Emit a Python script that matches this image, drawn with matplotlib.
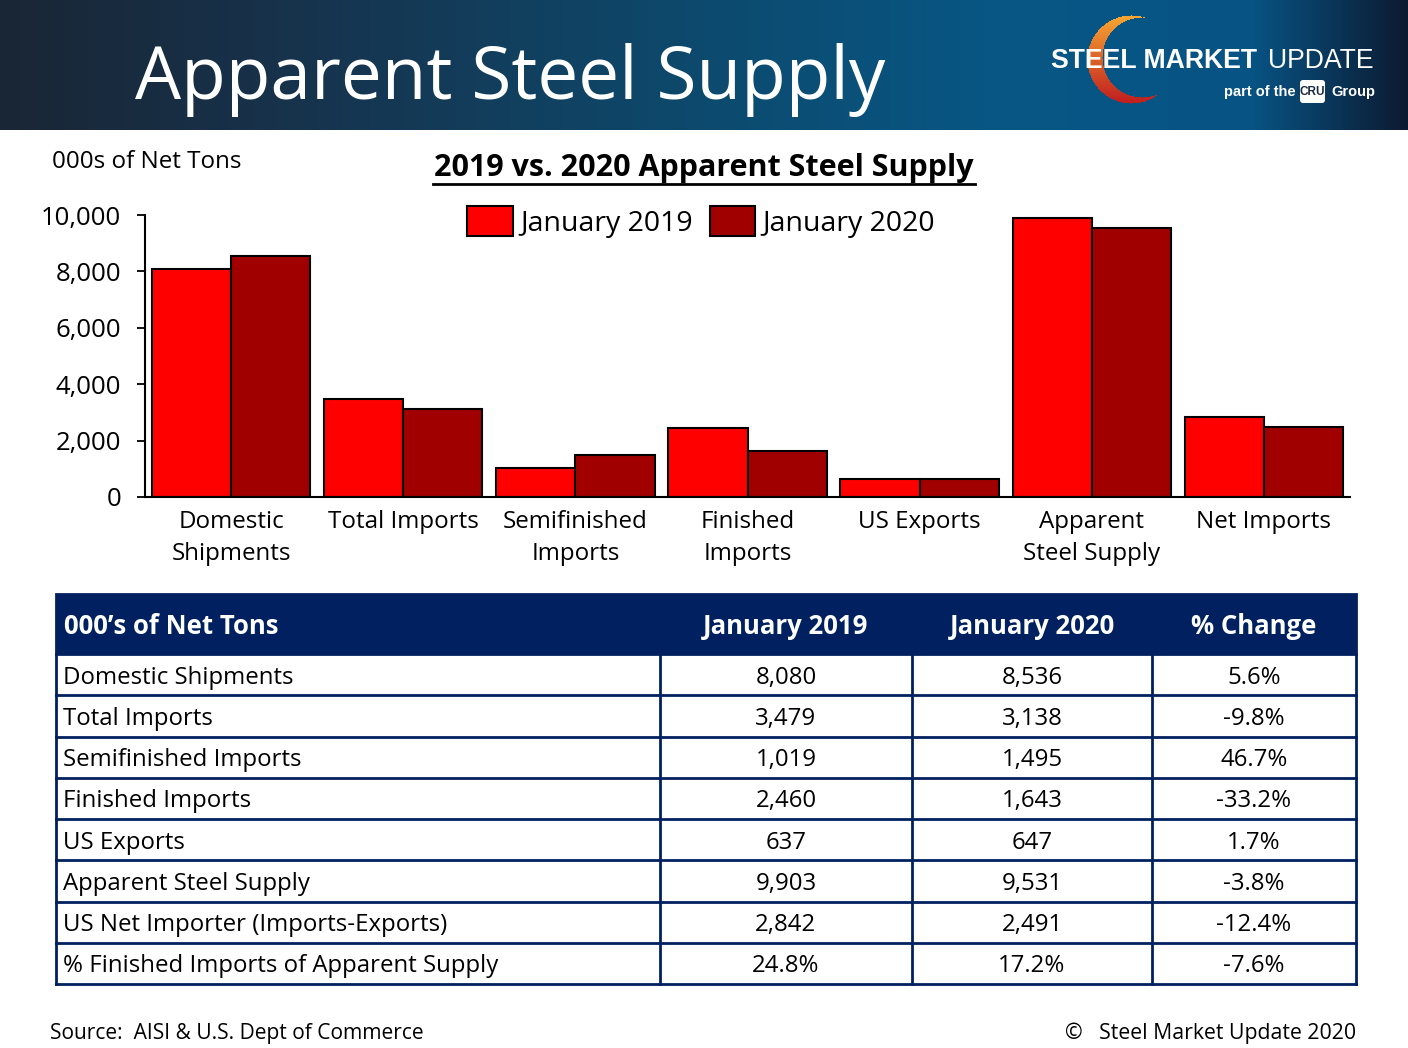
import numpy as np
import matplotlib
matplotlib.use("Agg")
import matplotlib.pyplot as plt
from matplotlib.patches import Rectangle, FancyBboxPatch

plt.rcParams['font.family'] = ['Open Sans', 'DejaVu Sans']

# data
categories = ["Domestic\nShipments", "Total Imports", "Semifinished\nImports",
              "Finished\nImports", "US Exports", "Apparent\nSteel Supply", "Net Imports"]
jan_2019 = [8080, 3479, 1019, 2460, 637, 9903, 2842]
jan_2020 = [8536, 3138, 1495, 1643, 647, 9531, 2491]

row_labels = ["Domestic Shipments", "Total Imports", "Semifinished Imports",
              "Finished Imports", "US Exports", "Apparent Steel Supply",
              "US Net Importer (Imports-Exports)", "% Finished Imports of Apparent Supply"]
col_2019 = ["8,080", "3,479", "1,019", "2,460", "637", "9,903", "2,842", "24.8%"]
col_2020 = ["8,536", "3,138", "1,495", "1,643", "647", "9,531", "2,491", "17.2%"]
col_change = ["5.6%", "-9.8%", "46.7%", "-33.2%", "1.7%", "-3.8%", "-12.4%", "-7.6%"]
header = ["000\u2019s of Net Tons", "January 2019", "January 2020", "% Change"]

W, H = 1408, 1048
fig = plt.figure(figsize=(W / 100, H / 100), dpi=100)

# overlay axes in pixel coords for the banner, table and footer
bg = fig.add_axes([0, 0, 1, 1])
bg.set_xlim(0, W)
bg.set_ylim(H, 0)
bg.axis("off")

# banner gradient
stops_x = [0, 300, 700, 1000, 1250, 1408]
stops_c = [(0.10, 0.15, 0.21), (0.09, 0.20, 0.30), (0.05, 0.29, 0.43),
           (0.03, 0.34, 0.52), (0.03, 0.33, 0.52), (0.05, 0.10, 0.19)]
xs = np.arange(W)
grad = np.stack([np.interp(xs, stops_x, [c[k] for c in stops_c]) for k in range(3)], axis=-1)
bg.imshow(grad[None, :, :], extent=[0, W, 130, 0], aspect="auto", zorder=0)

bg.text(135, 80, "Apparent Steel Supply", color="white", fontsize=52.5,
        ha="left", va="center", family=["Open Sans"])

# logo crescent
yy, xx = np.mgrid[0:110, 1070:1190]
outer = (xx - 1131) ** 2 + (yy - 59) ** 2 <= 44 ** 2
inner = (xx - 1142) ** 2 + (yy - 57) ** 2 <= 40 ** 2
mask = outer & ~inner
t = np.clip((yy - 14) / 90.0, 0, 1)
rgba = np.zeros(xx.shape + (4,))
rgba[..., 0] = 0.97 - 0.22 * t
rgba[..., 1] = 0.66 - 0.55 * t
rgba[..., 2] = 0.20 - 0.08 * t
rgba[..., 3] = mask.astype(float)
bg.imshow(rgba, extent=[1070, 1190, 110, 0], aspect="auto", zorder=1, interpolation="bilinear")

bg.text(1051, 61, "STEEL MARKET", color="white", fontsize=19.2, fontweight="bold",
        ha="left", va="center", family=["Liberation Sans"], zorder=3)
bg.text(1374, 61, "UPDATE", color="white", fontsize=19.2,
        ha="right", va="center", family=["Liberation Sans"], zorder=3)
bg.text(1296, 92, "part of the", color="white", fontsize=10.5, fontweight="bold",
        ha="right", va="center", family=["Liberation Sans"], zorder=3)
bg.add_patch(FancyBboxPatch((1300, 80), 25, 23, boxstyle="round,pad=0,rounding_size=3",
                            fc="white", ec="none", zorder=3))
bg.text(1312.5, 92, "CRU", color="#1a2a40", fontsize=8.5, fontweight="bold",
        ha="center", va="center", family=["Liberation Sans Narrow", "Liberation Sans"], zorder=4)
bg.text(1331, 92, "Group", color="white", fontsize=10.5, fontweight="bold",
        ha="left", va="center", family=["Liberation Sans"], zorder=3)

# bar chart
ax = fig.add_axes([145 / W, 1 - 497 / H, (1350 - 145) / W, (497 - 215) / H])
x = np.arange(len(categories))
w = 0.46
ax.bar(x - w / 2, jan_2019, w, color="#ff0000", edgecolor="black", linewidth=1.5,
       label="January 2019", zorder=2)
ax.bar(x + w / 2, jan_2020, w, color="#a00000", edgecolor="black", linewidth=1.5,
       label="January 2020", zorder=2)
ax.set_xlim(-0.5, len(categories) - 0.5)
ax.set_ylim(0, 10000)
ax.set_yticks(np.arange(0, 10001, 2000))
ax.set_yticklabels([f"{v:,}" for v in range(0, 10001, 2000)])
ax.set_xticks(x)
ax.set_xticklabels(categories, linespacing=1.45)
ax.tick_params(axis="y", labelsize=18.5, length=6, width=1.3, direction="out", pad=11)
ax.tick_params(axis="x", labelsize=17.4, length=0, pad=9)
for s in ["top", "right"]:
    ax.spines[s].set_visible(False)
for s in ["left", "bottom"]:
    ax.spines[s].set_linewidth(1.5)
ax.set_facecolor("none")

leg = ax.legend(loc="center", bbox_to_anchor=(701 / W, 1 - 222 / H), bbox_transform=fig.transFigure,
                ncol=2, frameon=False, fontsize=20.5, handlelength=1.6, handleheight=1.2,
                handletextpad=0.25, columnspacing=0.6, borderpad=0)
for p in leg.get_patches():
    p.set_linewidth(1.5)

fig.text(52 / W, 1 - 162 / H, "000s of Net Tons", fontsize=17.4, ha="left", va="center")
fig.text(704 / W, 1 - 168 / H, "2019 vs. 2020 Apparent Steel Supply", fontsize=22,
         fontweight="bold", ha="center", va="center")
bg.plot([433, 975], [183.5, 183.5], color="black", lw=2)

# table
col_edges = [56, 660, 912, 1152, 1356]
top, head_h = 594, 60
row_h = (984 - 654) / len(row_labels)
navy = "#002060"
bg.add_patch(Rectangle((col_edges[0], top), col_edges[-1] - col_edges[0], head_h,
                       fc=navy, ec=navy, lw=2, zorder=2))
hy = top + head_h / 2 + 2
bg.text(col_edges[0] + 8, hy, header[0], color="white", fontsize=18.5, fontweight="bold",
        ha="left", va="center", zorder=3)
for j in range(1, 4):
    cx = (col_edges[j] + col_edges[j + 1]) / 2
    bg.text(cx, hy, header[j], color="white", fontsize=18.5, fontweight="bold",
            ha="center", va="center", zorder=3)

y0 = top + head_h
for i, lab in enumerate(row_labels):
    ry = y0 + i * row_h
    bg.text(col_edges[0] + 7, ry + row_h / 2 + 3, lab, fontsize=17.3, ha="left", va="center", zorder=3)
    for j, col in enumerate([col_2019, col_2020, col_change], start=1):
        cx = (col_edges[j] + col_edges[j + 1]) / 2
        bg.text(cx, ry + row_h / 2 + 3, col[i], fontsize=17.3, ha="center", va="center", zorder=3)
    bg.plot([col_edges[0], col_edges[-1]], [ry + row_h, ry + row_h], color=navy, lw=2, zorder=2)
for cxe in col_edges:
    bg.plot([cxe, cxe], [y0, 984], color=navy, lw=2, zorder=2)

# footer
bg.text(50, 1033, "Source:  AISI & U.S. Dept of Commerce", fontsize=15.1, ha="left", va="center")
bg.text(1356, 1033, "\u00a9   Steel Market Update 2020", fontsize=15.3, ha="right", va="center")

fig.savefig("out.png", dpi=100)
